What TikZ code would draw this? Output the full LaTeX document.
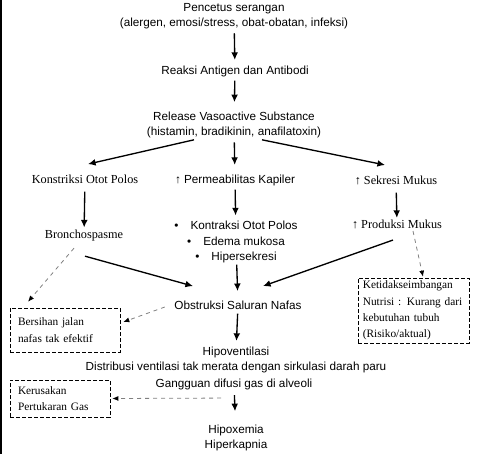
\documentclass[tikz,border=0pt]{standalone}
\usepackage{fontspec}
\setmainfont{Liberation Serif}
\setsansfont{Liberation Sans}
\usetikzlibrary{arrows.meta,calc}
\tikzset{%
  >={Latex[width=1.8mm,length=2mm]},
  % Specifications for style of nodes:
            base/.style = {inner sep=1pt, align=center,
                           font=\sffamily\fontsize{8.8}{11.6}\selectfont},
            serif/.style = {inner sep=1pt, align=center,
                           font=\rmfamily\fontsize{9.2}{11.6}\selectfont},
            diag/.style = {draw, dash pattern=on 3pt off 1.5pt, align=left,
                           inner xsep=6pt, inner ysep=1pt,
                           font=\rmfamily\fontsize{8.5}{12.3}\selectfont},
            flow/.style = {->, line width=1pt, shorten <=2pt, shorten >=3pt},
            dflow/.style = {->, gray, dashed, line width=0.6pt,
                           >={Latex[width=1.3mm,length=1.6mm,black]}}
                           }

\begin{document}
\begin{tikzpicture}[x=0.75pt, y=-0.75pt]
                    \useasboundingbox (0,0) rectangle (478,454);
                    \fill (0,0) rectangle (2,454);

                    \node (pencetus)   [base]  at (234,16)  {Pencetus serangan\\(alergen, emosi/stress, obat-obatan, infeksi)};
                    \node (reaksi)     [base]  at (235,71)  {Reaksi Antigen dan Antibodi};
                    \node (release)    [base]  at (234,125) {Release Vasoactive Substance\\(histamin, bradikinin, anafilatoxin)};
                    \node (konstriksi) [serif] at (85,179)  {Konstriksi Otot Polos};
                    \node (permeab)    [base]  at (235,180) {↑ Permeabilitas Kapiler};
                    \node (sekresi)    [serif] at (396,180) {↑ Sekresi Mukus};
                    \node (broncho)    [serif] at (84,236)  {Bronchospasme};
                    \node (kontraksi)  [base]  at (236,242) {\textbullet\hspace{9pt}Kontraksi Otot Polos\\
                                                             \textbullet\hspace{9pt}Edema mukosa\\
                                                             \textbullet\hspace{9pt}Hipersekresi};
                    \node (produksi)   [serif] at (397,224) {↑ Produksi Mukus};
                    \node (obstruksi)  [base]  at (238,305) {Obstruksi Saluran Nafas};
                    \node (hipovent)   [base]  at (236,352) {Hipoventilasi};
                    \node (distribusi) [base]  at (236,367) {Distribusi ventilasi tak merata dengan sirkulasi darah paru};
                    \node (gangguan)   [base]  at (234,384) {Gangguan difusi gas di alveoli};
                    \node (hipox)      [base]  at (236,438) {Hipoxemia\\Hiperkapnia};

                    \node (bersihan)   [diag, text width=70.5pt, minimum height=33pt]    at (65,330)    {Bersihan jalan\\nafas tak efektif};
                    \node (ketidak)    [diag, text width=76pt, inner xsep=3.6pt, minimum height=48.75pt] at (413.5,310.5) {Ketidakseimbangan\\Nutrisi : Kurang dari\\kebutuhan tubuh\\(Risiko/aktual)};
                    \node (kerusakan)  [diag, text width=63pt, minimum height=27.75pt]   at (60,398.5)  {Kerusakan\\Pertukaran Gas};

                    \draw[flow]  (pencetus)  -- (reaksi);
                    \draw[flow, shorten >=6pt]  (reaksi) -- (release);
                    \draw[flow, shorten >=6pt]  (release)   -- (permeab);
                    \draw[flow, shorten <=5pt, shorten >=1pt]  (konstriksi) -- (broncho);
                    \draw[flow]  (permeab)   -- (kontraksi);
                    \draw[flow, shorten <=5pt, shorten >=0pt]  (sekresi)   -- (produksi);
                    \draw[flow, shorten <=0pt, shorten >=6pt]  (kontraksi) -- (obstruksi);
                    \draw[flow]  (obstruksi) -- (hipovent);
                    \draw[flow, shorten <=3pt, shorten >=9pt]  (gangguan)  -- (hipox);

                    \draw[->, line width=1pt]  ($(release.south)+(-40,0)$) -- ($(konstriksi.north)+(3,-9)$);
                    \draw[->, line width=1pt]  ($(release.south)+(28,0)$)  -- ($(sekresi.north)+(-11,-9)$);
                    \draw[->, line width=1pt]  ($(broncho.south)+(1,13)$)  -- ($(obstruksi.north)+(-45,-13)$);
                    \draw[->, line width=1pt]  ($(produksi.south)+(-4,10)$) -- ($(obstruksi.north)+(25,-13)$);

                    \draw[dflow]  ($(broncho.south)+(-10,5)$)   -- ($(bersihan.north)+(-37,-6)$);
                    \draw[dflow]  ($(produksi.south)+(16,1)$)   -- ($(ketidak.north)+(9.5,-1)$);
                    \draw[dflow]  ($(obstruksi.west)+(-8,2)$)   -- ($(bersihan.east)+(3,-8)$);
                    \draw[dflow]  ($(gangguan.south)+(-13,7)$)  -- ($(kerusakan.east)+(2,0)$);
                \end{tikzpicture}
\end{document}
